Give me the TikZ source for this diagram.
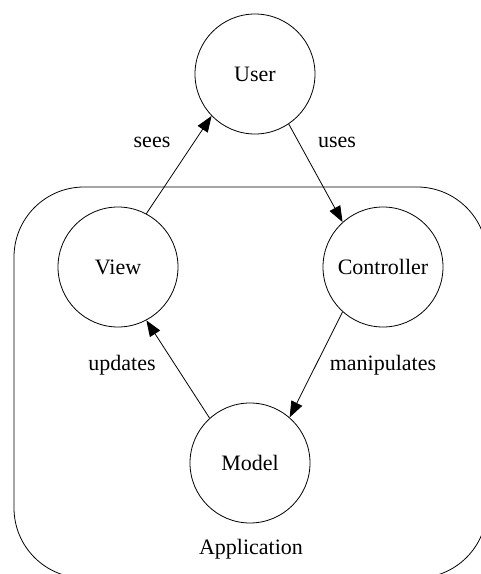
\documentclass[tikz,border=0pt]{standalone}
\usepackage{fontspec}
\setmainfont{Liberation Serif}
\usepackage{tikz}
\usetikzlibrary{positioning,arrows.meta}

\tikzset{
  part/.style={draw, circle, line width=0.8pt, minimum size=120pt, inner sep=0pt},
  flow/.style={line width=0.8pt, -{Triangle[length=16pt,width=12pt]}},
  txt/.style={font=\fontsize{22}{26}\selectfont}
}

\begin{document}
\begin{tikzpicture}[x=1pt, y=-1pt, every node/.append style={txt}]
\useasboundingbox (0,0) rectangle (481,574);
\clip (0,0) rectangle (481,574);

% the application box, cut off at the right and the bottom
\draw[line width=0.8pt, rounded corners=70pt] (14,187) rectangle (487,578);
\node (app) at (251,549) {Application};

% the four parts
\node[part] (user) at (255,74) {User};
\node[part] (view) at (118,267) {View};
\node[part] (ctrl) at (383,267) {Controller};
\node[part] (model) at (250,463) {Model};

% connectors
\draw[flow] (view.62) -- (user.224);
\draw[flow] (user.304) -- (ctrl.132);
\draw[flow] (ctrl.228) -- (model.49);
\draw[flow] (model.132) -- (view.298);

% connector labels
\node (sees) at (152,142) {sees};
\node (uses) at (337,142) {uses};
\node (updates) at (122,365) {updates};
\node (manip) at (383,365) {manipulates};

\end{tikzpicture}
\end{document}
